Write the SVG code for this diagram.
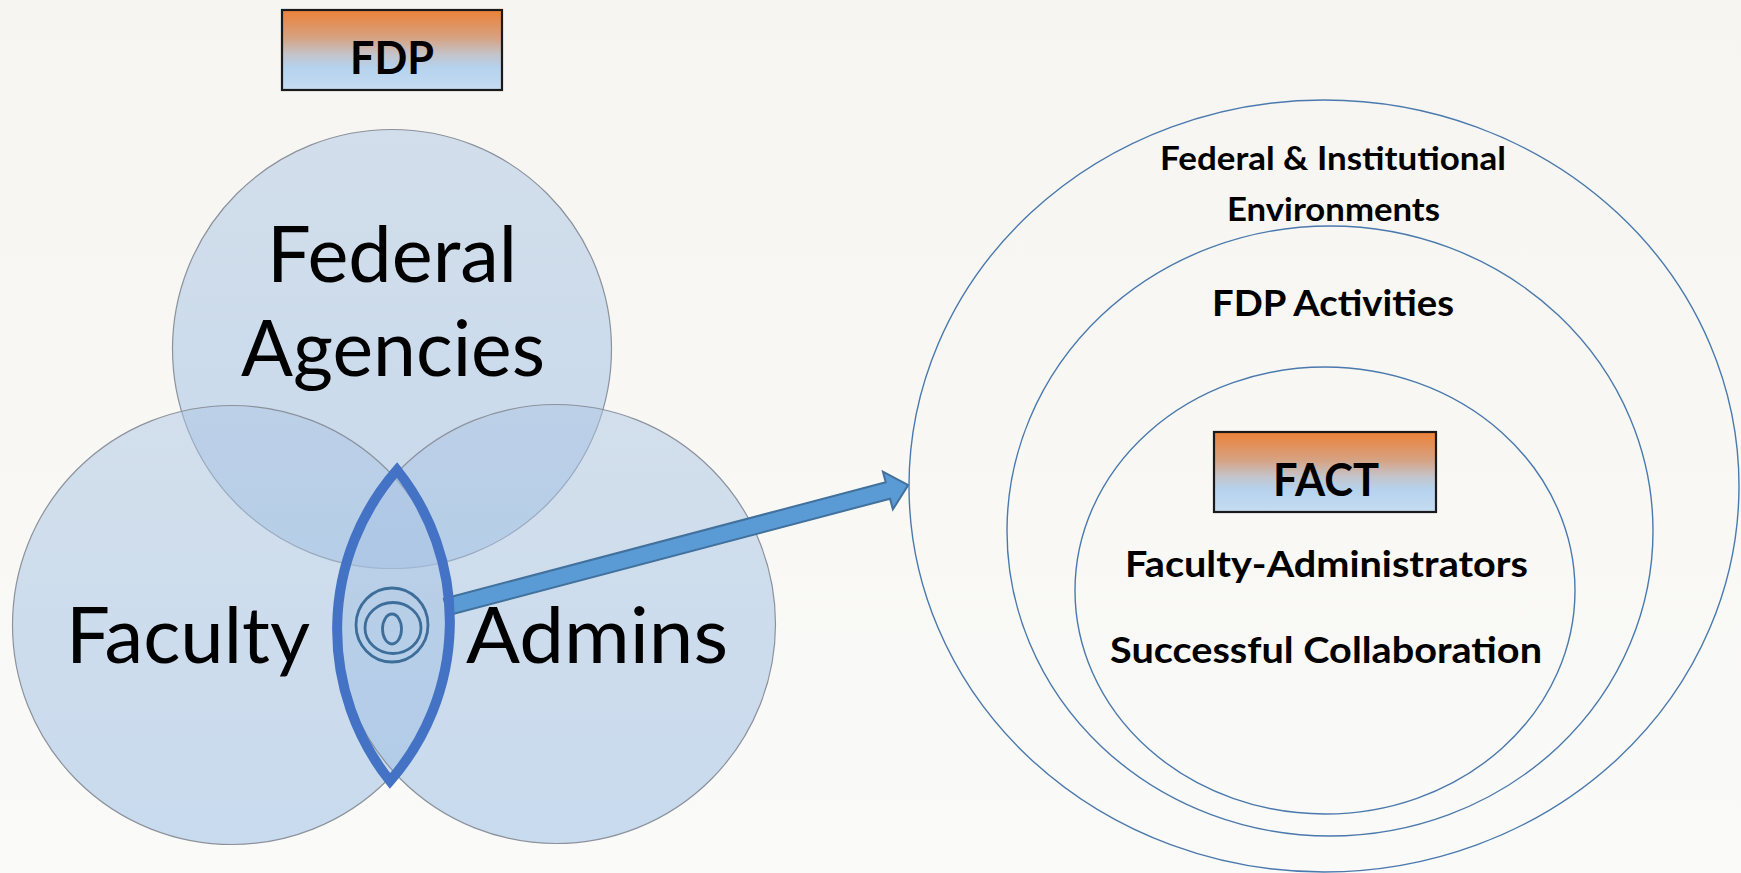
<svg xmlns="http://www.w3.org/2000/svg" width="1741" height="873" viewBox="0 0 1741 873">
  <defs>
    <linearGradient id="bg" x1="0" y1="0" x2="0" y2="1">
      <stop offset="0" stop-color="#f6f5f1"/>
      <stop offset="1" stop-color="#fafaf8"/>
    </linearGradient>
    <linearGradient id="circ" x1="0" y1="0" x2="0" y2="1">
      <stop offset="0" stop-color="#adc6e3"/>
      <stop offset="1" stop-color="#97bbe4"/>
    </linearGradient>
    <linearGradient id="box" x1="0" y1="0" x2="0" y2="1">
      <stop offset="0" stop-color="#ec8138"/>
      <stop offset="0.35" stop-color="#d6a282"/>
      <stop offset="0.55" stop-color="#c4c3c8"/>
      <stop offset="0.72" stop-color="#b5d2ee"/>
      <stop offset="1" stop-color="#c6dcf1"/>
    </linearGradient>
    <style>
      .venn { fill: url(#circ); fill-opacity: 0.5; stroke: #8c929c; stroke-width: 1.2; }
      .ring { fill: none; stroke: #4a79ad; stroke-width: 1.4; }
      .tag { fill: url(#box); stroke: #1a1a1a; stroke-width: 2.2; }
      .big { font-family: Lato, "Liberation Sans", sans-serif; font-size: 78px; fill: #000; }
      .bold { font-family: Lato, "Liberation Sans", sans-serif; font-weight: 700; fill: #000; }
      .spiral { fill: none; stroke: #3d6e9a; stroke-width: 2.8; }
    </style>
  </defs>
  <rect width="1741" height="873" fill="url(#bg)"/>

  <g id="fdp-tag">
    <rect class="tag" x="282" y="10" width="220" height="80"/>
    <text class="bold" x="350" y="74" font-size="45" textLength="84" lengthAdjust="spacingAndGlyphs">FDP</text>
  </g>

  <g id="federal-agencies">
    <circle class="venn" cx="392" cy="349" r="219.5"/>
    <text class="big" x="267" y="282" textLength="250" lengthAdjust="spacingAndGlyphs">Federal</text>
    <text class="big" x="241" y="376" textLength="304" lengthAdjust="spacingAndGlyphs">Agencies</text>
  </g>

  <g id="faculty">
    <circle class="venn" cx="232" cy="625" r="219.5"/>
    <text class="big" x="66" y="663" textLength="244" lengthAdjust="spacingAndGlyphs">Faculty</text>
  </g>

  <g id="admins">
    <circle class="venn" cx="556" cy="624" r="219.5"/>
    <text class="big" x="466" y="663" textLength="262" lengthAdjust="spacingAndGlyphs">Admins</text>
  </g>

  <g id="connectors">
    <g transform="translate(446,607) rotate(-14.77)">
      <polygon points="0,-8.5 457,-8.5 457,-19.5 478,0 457,19.5 457,8.5 0,8.5" fill="#5b9bd5" stroke="#41719c" stroke-width="2" stroke-linejoin="miter"/>
    </g>
  </g>

  <g id="lens">
    <path d="M397,470 A243,243 0 0 0 390,781 A243,243 0 0 0 397,470 Z" fill="none" stroke="#4472c4" stroke-width="10" stroke-linejoin="miter"/>
    <ellipse class="spiral" cx="392" cy="625" rx="36" ry="37"/>
    <ellipse class="spiral" cx="393" cy="628" rx="28" ry="25.5"/>
    <ellipse class="spiral" cx="392" cy="629" rx="9.5" ry="15"/>
  </g>

  <g id="federal-institutional-environments">
    <ellipse class="ring" cx="1324" cy="486" rx="415" ry="386"/>
    <text class="bold" x="1160" y="170" font-size="32.5" textLength="346" lengthAdjust="spacingAndGlyphs">Federal &amp; Institutional</text>
    <text class="bold" x="1227" y="221" font-size="32.5" textLength="213" lengthAdjust="spacingAndGlyphs">Environments</text>
  </g>

  <g id="fdp-activities">
    <ellipse class="ring" cx="1330" cy="531" rx="323" ry="305"/>
    <text class="bold" x="1212" y="316" font-size="36" textLength="242" lengthAdjust="spacingAndGlyphs">FDP Activities</text>
  </g>

  <g id="fact">
    <ellipse class="ring" cx="1325" cy="590.5" rx="250" ry="223.5"/>
    <rect class="tag" x="1214" y="432" width="222" height="80"/>
    <text class="bold" x="1273" y="496" font-size="46" textLength="106" lengthAdjust="spacingAndGlyphs">FACT</text>
    <text class="bold" x="1125" y="577" font-size="37" textLength="403" lengthAdjust="spacingAndGlyphs">Faculty-Administrators</text>
    <text class="bold" x="1110" y="663" font-size="37" textLength="432" lengthAdjust="spacingAndGlyphs">Successful Collaboration</text>
  </g>
</svg>
